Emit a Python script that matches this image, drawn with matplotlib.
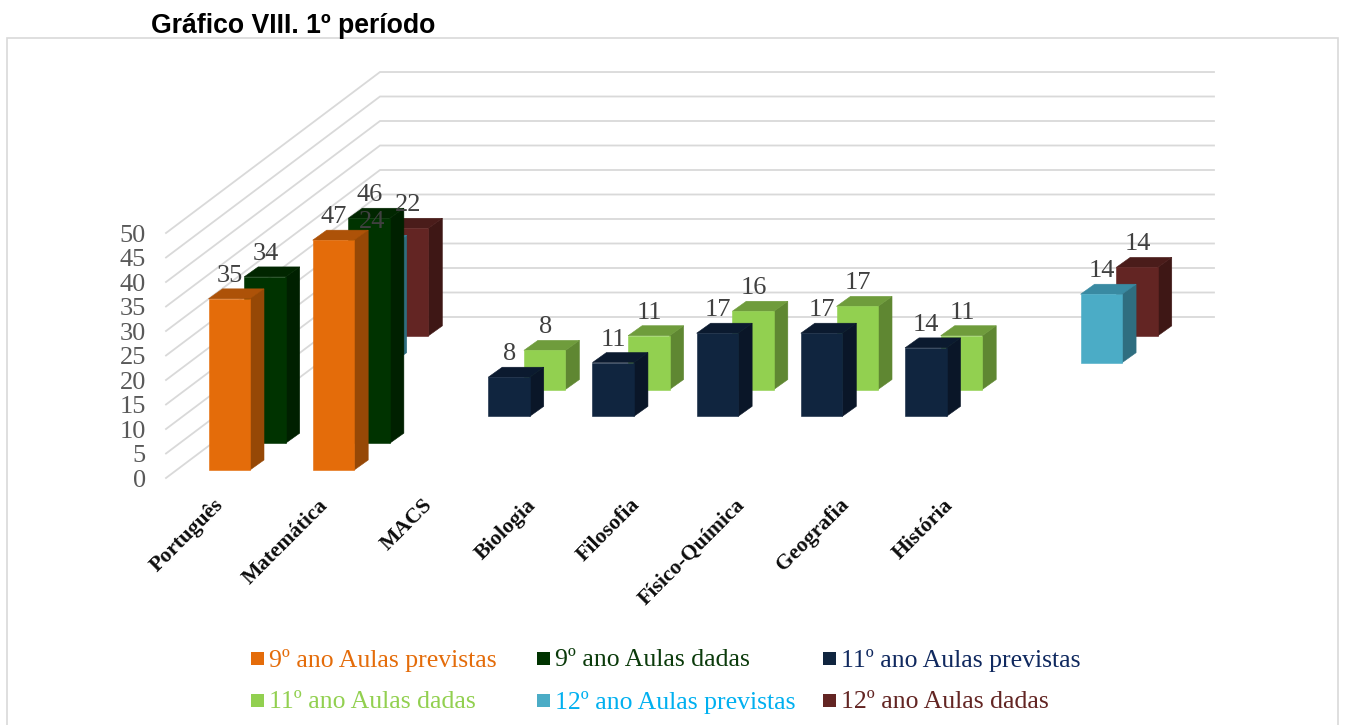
# -*- coding: utf-8 -*-
"""Gráfico VIII - 3D column chart drawn with an oblique projection"""

import matplotlib
matplotlib.use("Agg")
import matplotlib.pyplot as plt
from matplotlib.patches import Polygon, Rectangle

# Chart data
categories = ["Português", "Matemática", "MACS", "Biologia", "Filosofia",
              "Físico-Química", "Geografia", "História"]
series_names = ["9º ano Aulas previstas", "9º ano Aulas dadas", "11º ano Aulas previstas",
                "11º ano Aulas dadas", "12º ano Aulas previstas", "12º ano Aulas dadas"]
ano9_previstas = [35, 47, None, None, None, None, None, None]
ano9_dadas = [34, 46, None, None, None, None, None, None]
ano11_previstas = [None, None, 8, 11, 17, 17, 14, None]
ano11_dadas = [None, None, 8, 11, 16, 17, 11, None]
ano12_previstas = [24, None, None, None, None, None, None, 14]
ano12_dadas = [22, None, None, None, None, None, None, 14]
y_ticks = [0, 5, 10, 15, 20, 25, 30, 35, 40, 45, 50]

all_series = [ano9_previstas, ano9_dadas, ano11_previstas,
              ano11_dadas, ano12_previstas, ano12_dadas]

# front, side, top colours per series, and the legend text colour
face_colors = ["#E46C0A", "#003300", "#10253F", "#92D050", "#4BACC6", "#632523"]
side_colors = ["#964806", "#002000", "#0A1628", "#5F8732", "#2F6E80", "#3E1715"]
top_colors = ["#AD5208", "#012600", "#0B1A2F", "#6F9C3C", "#398AA2", "#4A1C1A"]
text_colors = ["#E46C0A", "#0B3B0B", "#10295F", "#92D050", "#00B0F0", "#632523"]

SERIF = "Liberation Serif"

# Projection: category, series row and value to image pixels
X0, Y0 = 208.5, 470.0
CAT_STEP = 104.2
ROW_DX, ROW_DY = 35.67, -26.83
UNIT = 4.89
BAR_W = 41.5
SIDE_DX, SIDE_DY = 14.0, -10.0
WALL_X0, WALL_Y0 = 166.0, 478.0
WALL_X1, WALL_Y1 = 380.0, 317.0
WALL_RIGHT = 1214.0


def project(cat, row, value):
	return X0 + CAT_STEP * cat + ROW_DX * row, Y0 + ROW_DY * row - UNIT * value


def draw_bar(ax, cat, row, value):
	x, y_top = project(cat, row, value)
	_, y_bot = project(cat, row, 0)
	front = [(x, y_bot), (x + BAR_W, y_bot), (x + BAR_W, y_top), (x, y_top)]
	side = [(x + BAR_W, y_bot), (x + BAR_W + SIDE_DX, y_bot + SIDE_DY),
			(x + BAR_W + SIDE_DX, y_top + SIDE_DY), (x + BAR_W, y_top)]
	top = [(x, y_top), (x + BAR_W, y_top),
		   (x + BAR_W + SIDE_DX, y_top + SIDE_DY), (x + SIDE_DX, y_top + SIDE_DY)]
	ax.add_patch(Polygon(side, closed=True, fc=side_colors[row], ec=side_colors[row], lw=0.4))
	ax.add_patch(Polygon(top, closed=True, fc=top_colors[row], ec=top_colors[row], lw=0.4))
	ax.add_patch(Polygon(front, closed=True, fc=face_colors[row], ec=face_colors[row], lw=0.4))


fig = plt.figure(figsize=(13.45, 7.25), dpi=100)
ax = fig.add_axes([0, 0, 1, 1])
ax.set_xlim(0, 1345)
ax.set_ylim(725, 0)
ax.axis("off")

# Outer frame, open at the bottom of the picture
ax.add_patch(Rectangle((7, 38), 1331, 700, fc="white", ec="#D9D9D9", lw=1.2))

fig.text(151 / 1345, 1 - 33 / 725, "Gráfico VIII. 1º período", family="Liberation Sans",
		 fontweight="bold", fontsize=19.2, color="black", ha="left", va="baseline")

# Gridlines on the side wall and back wall
for tick in y_ticks:
	dy = UNIT * tick * 1.002
	ax.plot([WALL_X0, WALL_X1, WALL_RIGHT], [WALL_Y0 - dy, WALL_Y1 - dy, WALL_Y1 - dy],
			color="#D9D9D9", lw=1.3, solid_joinstyle="miter", zorder=1)
	ax.text(146, WALL_Y0 - dy + 2.5, str(tick), family=SERIF, fontsize=19, color="#595959",
			ha="right", va="center", zorder=5)

# Bars, back row first so the front rows cover them
for row in range(len(all_series) - 1, -1, -1):
	for cat, value in enumerate(all_series[row]):
		if value is not None:
			draw_bar(ax, cat, row, value)

# Value labels on top of everything
for row in range(len(all_series) - 1, -1, -1):
	for cat, value in enumerate(all_series[row]):
		if value is not None:
			x, y_top = project(cat, row, value)
			ax.text(x + BAR_W / 2 + 0.5, y_top - 23, str(value), family=SERIF, fontsize=19,
					color="#404040", ha="center", va="center", zorder=6)

# Category labels
for cat, name in enumerate(categories):
	x, y = project(cat, 0, 0)
	ax.text(x + 5, y + 25, name, family=SERIF, fontweight="bold", fontsize=15.7,
			color="#0D0D0D", rotation=45, rotation_mode="anchor", ha="right", va="top")

# Legend, three columns and two rows
legend_x = [251, 537, 823]
legend_y = [658, 700]
for i, name in enumerate(series_names):
	lx = legend_x[i % 3]
	ly = legend_y[i // 3]
	ax.add_patch(Rectangle((lx, ly - 6.5), 13, 13, fc=face_colors[i], ec="none"))
	ax.text(lx + 18, ly + 2, name, family=SERIF, fontsize=18.5, color=text_colors[i],
			ha="left", va="center")

fig.savefig("out.png", dpi=100)
